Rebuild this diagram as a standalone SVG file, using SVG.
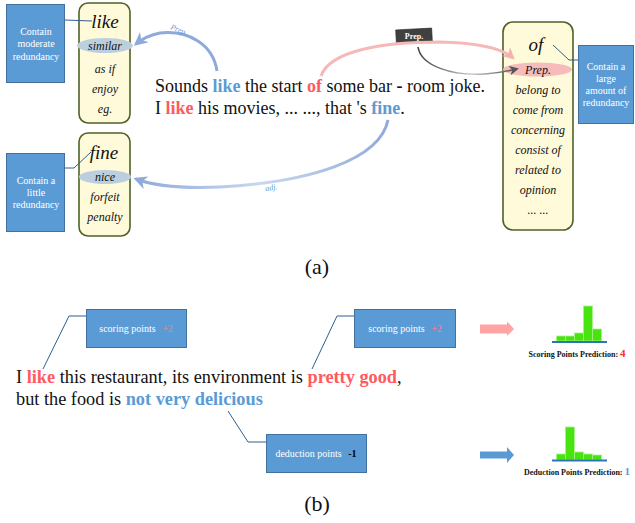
<svg xmlns="http://www.w3.org/2000/svg" width="635" height="523" viewBox="0 0 635 523">
  <defs>
    <style>
      .note { fill: #5b9bd5; stroke: #41719c; stroke-width: 1; }
      .note-t { font-family: "Liberation Serif", "Times New Roman", serif; font-size: 10px; fill: #ffffff; text-anchor: middle; }
      .word { fill: #fffad9; stroke: #4f6228; stroke-width: 1.6; }
      .syn { font-family: "Liberation Serif", "Times New Roman", serif; font-style: italic; font-size: 12px; fill: #111; text-anchor: middle; }
      .head { font-family: "Liberation Serif", "Times New Roman", serif; font-style: italic; font-size: 19px; fill: #111; text-anchor: middle; }
      .sent { font-family: "Liberation Serif", "Times New Roman", serif; font-size: 18px; fill: #111; }
      .sent-b { font-size: 18.3px; }
      .blue { fill: #5b9bd5; font-weight: bold; }
      .red { fill: #ff5a5f; font-weight: bold; }
      .lead { fill: none; stroke: #2f5f8f; stroke-width: 1; }
      .bar { fill: #4ae312; stroke: #a6f285; stroke-width: 0.8; }
      .axis { stroke: #2e75b6; stroke-width: 2; }
      .pred { font-family: "Liberation Serif", "Times New Roman", serif; font-size: 8px; font-weight: bold; fill: #111; text-anchor: middle; }
      .cap { font-family: "Liberation Serif", "Times New Roman", serif; font-size: 22px; fill: #111; text-anchor: middle; }
      .lbl { font-family: "Liberation Serif", "Times New Roman", serif; font-style: italic; font-size: 8px; fill: #5b9bd5; }
    </style>
    <marker id="ah-blue" viewBox="0 0 10 10" refX="8" refY="5" markerWidth="4.5" markerHeight="4.5" orient="auto">
      <path d="M0,0 L10,5 L0,10 L3,5 Z" fill="#8eaadb"/>
    </marker>
    <marker id="ah-pink" viewBox="0 0 10 10" refX="8" refY="5" markerWidth="4" markerHeight="4" orient="auto">
      <path d="M0,0 L10,5 L0,10 L3,5 Z" fill="#f4b1b1"/>
    </marker>
    <marker id="ah-gray" viewBox="0 0 10 10" refX="8" refY="5" markerWidth="6" markerHeight="6" orient="auto">
      <path d="M0,0 L10,5 L0,10 L3,5 Z" fill="#555555"/>
    </marker>
    <linearGradient id="g-gray" x1="0" y1="0" x2="1" y2="0">
      <stop offset="0" stop-color="#3f3f3f"/>
      <stop offset="0.55" stop-color="#c8c8c8"/>
      <stop offset="1" stop-color="#4a4a4a"/>
    </linearGradient>
    <linearGradient id="g-adj" x1="0" y1="0" x2="1" y2="0">
      <stop offset="0" stop-color="#8eaadb"/>
      <stop offset="0.5" stop-color="#c9d8f0"/>
      <stop offset="1" stop-color="#8eaadb"/>
    </linearGradient>
  </defs>

  <!-- (a) synonym groups -->
  <g id="note-moderate">
    <rect class="note" x="6.5" y="4.5" width="58" height="78"/>
    <text class="note-t" x="36" y="35">Contain</text>
    <text class="note-t" x="36" y="47">moderate</text>
    <text class="note-t" x="36" y="60">redundancy</text>
  </g>
  <g id="box-like">
    <rect class="word" x="79" y="3" width="51" height="120" rx="9"/>
    <text class="head" x="105" y="28">like</text>
    <ellipse cx="105" cy="45.5" rx="28" ry="7.5" fill="#bccfdf"/>
    <text class="syn" x="105" y="49.5">similar</text>
    <text class="syn" x="105" y="73">as if</text>
    <text class="syn" x="105" y="93">enjoy</text>
    <text class="syn" x="105" y="113">eg.</text>
  </g>
  <g id="note-little">
    <rect class="note" x="6.5" y="153.5" width="58" height="78"/>
    <text class="note-t" x="36" y="184">Contain a</text>
    <text class="note-t" x="36" y="196">little</text>
    <text class="note-t" x="36" y="208">redundancy</text>
  </g>
  <g id="box-fine">
    <rect class="word" x="79" y="133" width="51" height="103" rx="9"/>
    <text class="head" x="104" y="159">fine</text>
    <ellipse cx="105" cy="177" rx="26" ry="7" fill="#bccfdf"/>
    <text class="syn" x="105" y="181">nice</text>
    <text class="syn" x="105" y="201">forfeit</text>
    <text class="syn" x="105" y="221">penalty</text>
  </g>
  <g id="box-of">
    <rect class="word" x="503" y="22" width="70" height="208" rx="10"/>
    <text class="head" x="536" y="51">of</text>
    <ellipse cx="537.5" cy="69.5" rx="34.5" ry="7" fill="#f6bcbb"/>
    <text class="syn" x="538" y="74">Prep.</text>
    <text class="syn" x="538" y="94">belong to</text>
    <text class="syn" x="538" y="114">come from</text>
    <text class="syn" x="538" y="134">concerning</text>
    <text class="syn" x="538" y="154">consist of</text>
    <text class="syn" x="538" y="174">related to</text>
    <text class="syn" x="538" y="194">opinion</text>
    <text class="syn" x="538" y="214">... ...</text>
  </g>
  <g id="note-large">
    <rect class="note" x="578.5" y="45.5" width="55" height="78"/>
    <text class="note-t" x="606" y="70">Contain a</text>
    <text class="note-t" x="606" y="82">large</text>
    <text class="note-t" x="606" y="94">amount of</text>
    <text class="note-t" x="606" y="106">redundancy</text>
  </g>
  <g id="tag-prep">
    <rect x="396" y="29" width="36" height="13" fill="#404040" stroke="#222" stroke-width="0.6" transform="rotate(-3 414 35.5)"/>
    <text x="414" y="38.5" font-family="Liberation Serif, serif" font-size="8" font-weight="bold" fill="#fff" text-anchor="middle">Prep.</text>
  </g>

  <!-- (a) sentences -->
  <g id="sentences-a">
    <text class="sent" x="155" y="92">Sounds <tspan class="blue">like</tspan> the start <tspan class="red">of</tspan> some bar <tspan font-weight="bold">-</tspan> room joke.</text>
    <text class="sent" x="155" y="114">I <tspan class="red">like</tspan> his movies, ... ..., that 's <tspan class="blue">fine</tspan>.</text>
  </g>

  <!-- connectors -->
  <g id="connectors">
    <polyline class="lead" points="65,20 92,21"/>
    <polyline class="lead" points="65,168 74,168 91,152"/>
    <polyline class="lead" points="553,45 569,60 578,60"/>
    <path d="M217,71 C213,44 188,30 160,33 C150,35 142,39 136,44" fill="none" stroke="#8eaadb" stroke-width="3" marker-end="url(#ah-blue)"/>
    <text class="lbl" x="170" y="29" transform="rotate(22 170 29)">Prep.</text>
    <path d="M388,120 C380,160 310,182 220,187 C175,189 152,185 136,179" fill="none" stroke="url(#g-adj)" stroke-width="3" marker-end="url(#ah-blue)"/>
    <text class="lbl" x="265" y="190" transform="rotate(-8 272 187)">adj.</text>
    <path d="M321,76 C330,50 385,42 440,42 C480,43 502,48 513,58" fill="none" stroke="#f4b9b8" stroke-width="3" marker-end="url(#ah-pink)"/>
    <path d="M418,47 C421,66 452,76 485,74 C499,73 508,71 517,69" fill="none" stroke="url(#g-gray)" stroke-width="1.6" marker-end="url(#ah-gray)"/>
    <polyline class="lead" points="43,369 69,316 86,316"/>
    <polyline class="lead" points="312,369 337,316 354,316"/>
    <polyline class="lead" points="228,411 248,442 266,442"/>
    <polygon points="480,324.5 507,324.5 507,321.5 514,329 507,336 507,333.5 480,333.5" fill="#ffa3a3"/>
    <polygon points="480,451.5 507,451.5 507,447 514,455 507,463 507,458.5 480,458.5" fill="#5b9bd5"/>
  </g>

  <text class="cap" x="317" y="274">(a)</text>

  <!-- (b) score boxes -->
  <g id="score-1">
    <rect class="note" x="86.5" y="309.5" width="100" height="38"/>
    <text class="note-t" x="136" y="332">scoring points <tspan dx="4" fill="#ff7c80">+2</tspan></text>
  </g>
  <g id="score-2">
    <rect class="note" x="354.5" y="309.5" width="101" height="38"/>
    <text class="note-t" x="405" y="332">scoring points <tspan dx="4" fill="#ff7c80">+2</tspan></text>
  </g>
  <g id="deduct">
    <rect class="note" x="266.5" y="434.5" width="100" height="38"/>
    <text class="note-t" x="316" y="457">deduction points <tspan dx="4" fill="#000" font-weight="bold">-1</tspan></text>
  </g>

  <g id="sentences-b">
    <text class="sent sent-b" x="16" y="383">I <tspan class="red">like</tspan> this restaurant, its environment is <tspan class="red">pretty good</tspan>,</text>
    <text class="sent sent-b" x="16" y="405">but the food is <tspan class="blue">not very delicious</tspan></text>
  </g>

  <g id="hist-score">
    <rect class="bar" x="556.5" y="336" width="9" height="5"/>
    <rect class="bar" x="565.5" y="336" width="9" height="5"/>
    <rect class="bar" x="574.5" y="333" width="9" height="8"/>
    <rect class="bar" x="583.5" y="306" width="9" height="35"/>
    <rect class="bar" x="592.5" y="329" width="9" height="12"/>
    <line class="axis" x1="552" y1="342" x2="607" y2="342"/>
    <text class="pred" x="577" y="357">Scoring Points Prediction: <tspan fill="#ff2a2a" font-size="11">4</tspan></text>
  </g>
  <g id="hist-deduct">
    <rect class="bar" x="556.5" y="454" width="9" height="6"/>
    <rect class="bar" x="565.5" y="427" width="9" height="33"/>
    <rect class="bar" x="574.5" y="452" width="9" height="8"/>
    <rect class="bar" x="583.5" y="454" width="9" height="6"/>
    <rect class="bar" x="592.5" y="455" width="9" height="5"/>
    <line class="axis" x1="552" y1="460.5" x2="607" y2="460.5"/>
    <text class="pred" x="577" y="475">Deduction Points Prediction: <tspan fill="#5b9bd5" font-size="11">1</tspan></text>
  </g>

  <text class="cap" x="317" y="511">(b)</text>
</svg>
